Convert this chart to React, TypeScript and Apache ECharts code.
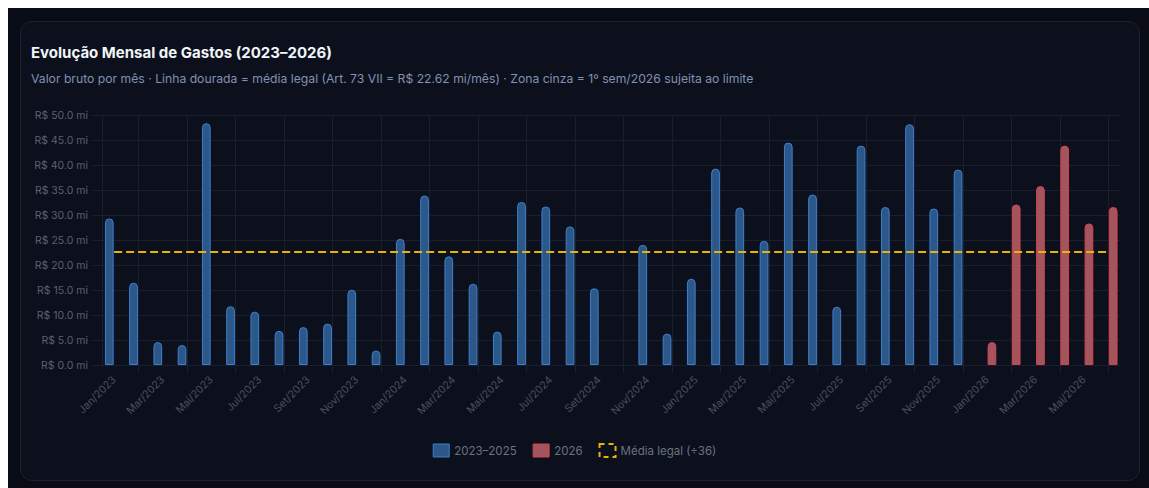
import React, { useEffect, useRef } from "react";
import * as echarts from "echarts";

const CATEGORIES = [
  "Jan/2023", "Fev/2023", "Mar/2023", "Abr/2023", "Mai/2023", "Jun/2023",
  "Jul/2023", "Ago/2023", "Set/2023", "Out/2023", "Nov/2023", "Dez/2023",
  "Jan/2024", "Fev/2024", "Mar/2024", "Abr/2024", "Mai/2024", "Jun/2024",
  "Jul/2024", "Ago/2024", "Set/2024", "Out/2024", "Nov/2024", "Dez/2024",
  "Jan/2025", "Fev/2025", "Mar/2025", "Abr/2025", "Mai/2025", "Jun/2025",
  "Jul/2025", "Ago/2025", "Set/2025", "Out/2025", "Nov/2025", "Dez/2025",
  "Jan/2026", "Fev/2026", "Mar/2026", "Abr/2026", "Mai/2026", "Jun/2026",
];

const VALORES_2023_2025: (number | null)[] = [
  29.4, 16.5, 4.6, 4.0, 48.5, 11.8, 10.7, 6.85, 7.6, 8.3, 15.1, 2.9,
  25.3, 34.0, 21.8, 16.3, 6.7, 32.7, 31.8, 27.8, 15.4, null, 24.1, 6.3,
  17.3, 39.4, 31.6, 24.9, 44.6, 34.2, 11.7, 44.0, 31.7, 48.3, 31.4, 39.2,
  null, null, null, null, null, null,
];

const VALORES_2026: (number | null)[] = [
  null, null, null, null, null, null, null, null, null, null, null, null,
  null, null, null, null, null, null, null, null, null, null, null, null,
  null, null, null, null, null, null, null, null, null, null, null, null,
  4.6, 32.2, 35.9, 44.0, 28.4, 31.7,
];

const MEDIA_LEGAL = 22.62;
const Y_MIN = 0;
const Y_MAX = 50;
const Y_STEP = 5;

const SERIES_NAMES = ["2023–2025", "2026", "Média legal (÷36)"];
const TITLE = "Evolução Mensal de Gastos (2023–2026)";
const SUBTITLE =
  "Valor bruto por mês · Linha dourada = média legal (Art. 73 VII = R$ 22.62 mi/mês) · Zona cinza = 1º sem/2026 sujeita ao limite";

const FONT = "Inter, 'Noto Sans', sans-serif";
const GRID_COLOR = "#1a1f2e";
const BLUE_FILL = "#2b5789";
const BLUE_BORDER = "#3f7fcf";
const RED_FILL = "#a3555d";
const RED_BORDER = "#d9404f";
const GOLD = "#eab308";

export default function App() {
  const ref = useRef<HTMLDivElement>(null);

  useEffect(() => {
    if (!ref.current) return;
    const chart = echarts.init(ref.current, null, { renderer: "svg" });
    const oddIdx = (i: number) => i % 2 === 1;
    chart.setOption({
      animation: false,
      backgroundColor: "transparent",
      textStyle: { fontFamily: FONT },
      title: {
        text: TITLE,
        subtext: SUBTITLE,
        left: 26,
        top: 38,
        itemGap: 9,
        textStyle: {
          color: "#f1f5f9",
          fontSize: 15,
          fontWeight: "bold",
          fontFamily: FONT,
          lineHeight: 18,
        },
        subtextStyle: {
          color: "#8290b2",
          fontSize: 12.2,
          fontFamily: FONT,
          lineHeight: 16,
        },
      },
      legend: {
        left: "center",
        top: 438,
        itemWidth: 16,
        itemHeight: 13,
        itemGap: 16,
        textStyle: { color: "#6b7280", fontSize: 11.5, fontFamily: FONT },
        data: [
          {
            name: SERIES_NAMES[0],
            icon: "rect",
            itemStyle: { color: BLUE_FILL, borderColor: BLUE_BORDER, borderWidth: 1 },
          },
          {
            name: SERIES_NAMES[1],
            icon: "rect",
            itemStyle: { color: RED_FILL, borderColor: RED_BORDER, borderWidth: 1 },
          },
          {
            name: SERIES_NAMES[2],
            icon: "rect",
            itemStyle: {
              color: "transparent",
              borderColor: GOLD,
              borderWidth: 2,
              borderType: [5, 4],
            },
          },
        ],
      },
      grid: { left: 102, right: 28.5, top: 115.7, bottom: 123, containLabel: false },
      xAxis: {
        type: "category",
        data: CATEGORIES,
        boundaryGap: true,
        axisLine: { show: true, lineStyle: { color: GRID_COLOR } },
        axisTick: {
          show: true,
          alignWithLabel: true,
          interval: oddIdx,
          length: 8,
          lineStyle: { color: GRID_COLOR },
        },
        splitLine: {
          show: true,
          alignWithLabel: true,
          interval: oddIdx,
          lineStyle: { color: GRID_COLOR },
        },
        axisLabel: {
          interval: 1,
          rotate: 45,
          margin: 13,
          color: "#4a5060",
          fontSize: 10.5,
          fontFamily: FONT,
        },
      },
      yAxis: {
        type: "value",
        min: Y_MIN,
        max: Y_MAX,
        interval: Y_STEP,
        axisLine: { show: true, lineStyle: { color: GRID_COLOR } },
        axisTick: { show: true, length: 10, lineStyle: { color: GRID_COLOR } },
        splitLine: { show: true, lineStyle: { color: GRID_COLOR } },
        axisLabel: {
          margin: 14,
          color: "#5a6170",
          fontSize: 10.5,
          fontFamily: FONT,
          formatter: (v: number) => `R$ ${v.toFixed(1)} mi`,
        },
      },
      series: [
        {
          name: SERIES_NAMES[0],
          type: "bar",
          data: VALORES_2023_2025,
          barWidth: 8.7,
          barGap: "11%",
          itemStyle: {
            color: BLUE_FILL,
            borderColor: BLUE_BORDER,
            borderWidth: 1,
            borderRadius: [4, 4, 0, 0],
          },
        },
        {
          name: SERIES_NAMES[1],
          type: "bar",
          data: VALORES_2026,
          barWidth: 8.7,
          barGap: "11%",
          itemStyle: {
            color: RED_FILL,
            borderColor: RED_BORDER,
            borderWidth: 1,
            borderRadius: [4, 4, 0, 0],
          },
        },
        {
          name: SERIES_NAMES[2],
          type: "line",
          data: [],
          itemStyle: { color: GOLD },
          lineStyle: { color: GOLD, width: 2, type: [8, 4] },
          markLine: {
            silent: true,
            symbol: ["none", "none"],
            label: { show: false },
            lineStyle: { color: GOLD, width: 2, type: [8, 4] },
            data: [
              [
                { coord: [CATEGORIES[0], MEDIA_LEGAL] },
                { coord: [CATEGORIES[CATEGORIES.length - 1], MEDIA_LEGAL] },
              ],
            ],
          },
        },
      ],
    });
    return () => chart.dispose();
  }, []);

  return (
    <div
      style={{
        position: "fixed",
        left: 0,
        top: 0,
        width: 1149,
        height: 488,
        background: "#ffffff",
        overflow: "hidden",
      }}
    >
      <div
        style={{
          position: "absolute",
          left: 8,
          top: 8,
          width: 1141,
          height: 480,
          background: "#090c15",
        }}
      />
      <div
        style={{
          position: "absolute",
          left: 20,
          top: 21,
          width: 1118,
          height: 458,
          background: "#0b101c",
          border: "1px solid #1a2133",
          borderRadius: 12,
        }}
      />
      <div
        ref={ref}
        style={{ position: "absolute", left: 0, top: 0, width: 1149, height: 488 }}
      />
    </div>
  );
}
